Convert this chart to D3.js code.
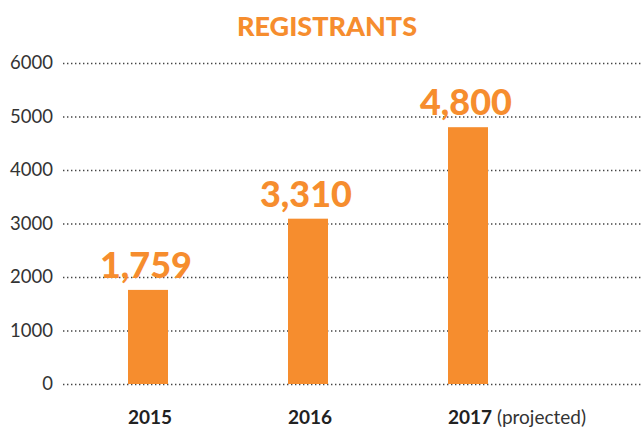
<!DOCTYPE html>
<html><head><meta charset="utf-8">
<script src="https://cdn.jsdelivr.net/npm/d3@7"></script>
<style>body{margin:0;background:#fff}svg{display:block}</style>
</head><body>
<script>
const categories = ["2015", "2016", "2017"];
const suffixes = ["", "", " (projected)"];
const barValues = [1759, 3090, 4800];
const valueLabels = ["1,759", "3,310", "4,800"];
const yTicks = [0, 1000, 2000, 3000, 4000, 5000, 6000];
const title = "REGISTRANTS";

const W = 641, H = 436, orange = "#F68D2E";
const svg = d3.select("body").append("svg").attr("width", W).attr("height", H);
const font = "Lato, 'Open Sans', sans-serif";

const y = d3.scaleLinear().domain([0, 6000]).range([384, 63]);
const x = d3.scaleBand().domain(categories).range([68, 548]).paddingInner(0.75).paddingOuter(0.375);

svg.append("text").attr("x", 327).attr("y", 36).attr("text-anchor", "middle")
  .attr("font-family", font).attr("font-weight", 900).attr("font-size", 27)
  .attr("fill", orange).text(title);

const yAxis = d3.axisLeft(y).tickValues(yTicks).tickSize(-(W - 63)).tickPadding(10).tickFormat(d3.format("d"));
const ga = svg.append("g").attr("transform", "translate(63,0)").call(yAxis);
ga.select(".domain").remove();
ga.selectAll(".tick line").attr("stroke", "#444").attr("stroke-width", 1.4).attr("stroke-dasharray", "1.4,2.6");
ga.selectAll(".tick text").attr("font-family", font).attr("font-size", 18.5).attr("fill", "#333").attr("x", -10);

svg.selectAll("rect.bar").data(categories).join("rect").attr("class", "bar")
  .attr("x", d => x(d)).attr("width", x.bandwidth())
  .attr("y", (d, i) => y(barValues[i])).attr("height", (d, i) => y(0) - y(barValues[i]))
  .attr("fill", orange);

svg.selectAll("text.val").data(categories).join("text").attr("class", "val")
  .attr("x", d => x(d) + x.bandwidth() / 2 - 2).attr("y", (d, i) => y(barValues[i]) - 12)
  .attr("text-anchor", "middle").attr("font-family", font).attr("font-weight", 900)
  .attr("font-size", 36).attr("fill", orange).text((d, i) => valueLabels[i]);

const xl = svg.selectAll("text.cat").data(categories).join("text").attr("class", "cat")
  .attr("x", d => x(d)).attr("y", 424).attr("font-family", font).attr("font-size", 19).attr("fill", "#222");
xl.append("tspan").attr("font-weight", 700).text(d => d);
xl.append("tspan").attr("font-weight", 400).attr("fill", "#333").text((d, i) => suffixes[i]);
</script>
</body></html>
